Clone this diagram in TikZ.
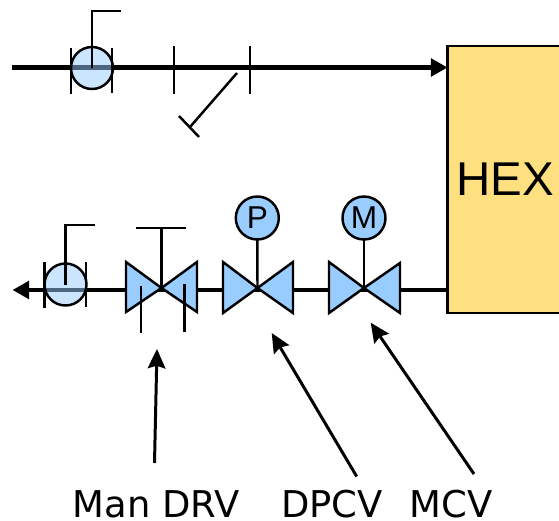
\documentclass[tikz,border=0pt]{standalone}
\usepackage{fontspec}
\setmainfont{DejaVu Sans}
\newfontfamily\arialfont{Liberation Sans}
\usetikzlibrary{arrows.meta}
\tikzset{
    pipe/.style={line width=2.3pt, black, -{Triangle[length=9.5pt, width=10pt]}},
    thin line/.style={line width=1.4pt, black},
    valve/.style={line width=1.4pt, draw=black, fill=valveblue, line join=miter},
    actuator/.style={circle, inner sep=0pt, outer sep=0pt, minimum size=0.86cm, line width=1.4pt, draw=black, fill=valveblue, font=\arialfont\fontsize{18}{18}\selectfont},
    orifice/.style={circle, inner sep=0pt, outer sep=0pt, minimum size=0.84cm, line width=1.4pt, draw=black, fill=valveblue, fill opacity=0.5, text opacity=1},
    callout/.style={line width=1.7pt, black, -{Stealth[length=11pt, width=10pt, inset=1.5pt]}},
    tag/.style={inner sep=0pt, anchor=base, font=\fontsize{21}{21}\selectfont}
}
\definecolor{valveblue}{HTML}{99CCFF}
\definecolor{hexyellow}{HTML}{FFE080}

\begin{document}
\begin{tikzpicture}[x=0.02cm, y=-0.02cm]
    \useasboundingbox (0, 0) rectangle (559, 521);
    \clip (0, 0) rectangle (559, 521);
    \node[draw=black, line width=1.4pt, fill=hexyellow, minimum width=2.3cm, minimum height=5.34cm, inner sep=0pt, outer sep=0pt, font=\arialfont\fontsize{27}{27}\selectfont] (hex) at (505, 179.5) {HEX};

    % supply line
    \coordinate (supplyin) at (12, 67.5);
    \coordinate (supplyout) at (hex.west |- supplyin);
    \draw[pipe] (supplyin) -- (supplyout);
    \node[orifice] (orifa) at (92, 68) {};
    \draw[thin line] (71, 48) -- (71, 94);
    \draw[thin line] (112, 48) -- (112, 93);
    \coordinate (flaga) at (92, 11);
    \draw[thin line] (orifa.center) -- (flaga) -- (121, 11);
    \draw[thin line] (174, 46) -- (174, 94);
    \draw[thin line] (250, 46) -- (250, 94);
    \coordinate (handlea) at (190, 127);
    \draw[thin line] (237, 73) -- (handlea);
    \draw[thin line] (179, 116) -- (199, 137);

    % return line
    \coordinate (returnin) at (hex.west |- 0, 290);
    \coordinate (returnout) at (12.5, 290);
    \draw[pipe] (returnin) -- (returnout);
    \node[orifice] (orifb) at (65.5, 284.5) {};
    \draw[thin line] (44.5, 262) -- (44.5, 308);
    \draw[thin line] (86, 262) -- (86, 307);
    \coordinate (flagb) at (65.5, 225);
    \draw[thin line] (65.5, 285) -- (flagb) -- (95, 225);

    % valves
    \coordinate (drv) at (161.5, 288);
    \coordinate (dpcv) at (257.5, 288);
    \coordinate (mcv) at (364, 288);
    \draw[valve] (drv) -- (126, 262) -- (126, 312) -- cycle;
    \draw[valve] (drv) -- (197, 262) -- (197, 312) -- cycle;
    \draw[valve] (dpcv) -- (223, 262) -- (223, 313) -- cycle;
    \draw[valve] (dpcv) -- (293, 262) -- (293, 313) -- cycle;
    \draw[valve] (mcv) -- (329, 262) -- (329, 313) -- cycle;
    \draw[valve] (mcv) -- (400, 263) -- (400, 313) -- cycle;

    \coordinate (handleb) at (161.5, 228);
    \draw[thin line] (drv) -- (handleb);
    \draw[thin line] (136, 228) -- (186, 228);
    \draw[thin line] (141, 286) -- (141, 333);
    \draw[thin line] (184.5, 284) -- (184.5, 332);

    \node[actuator] (p) at (257.3, 218) {P};
    \node[actuator] (m) at (364, 218) {M};
    \draw[thin line] (p) -- (dpcv);
    \draw[thin line] (m) -- (mcv);

    % labels
    \node[tag] (drvtag) at (156, 517) {Man DRV};
    \node[tag] (dpcvtag) at (332, 517) {DPCV};
    \node[tag] (mcvtag) at (451, 517) {MCV};
    \coordinate (drvtail) at (154.5, 463);
    \coordinate (dpcvtail) at (356.7, 476.5);
    \coordinate (mcvtail) at (474, 474);
    \coordinate (drvtip) at (157, 349);
    \coordinate (dpcvtip) at (271.7, 333);
    \coordinate (mcvtip) at (370.7, 322.7);
    \draw[callout] (drvtail) -- (drvtip);
    \draw[callout] (dpcvtail) -- (dpcvtip);
    \draw[callout] (mcvtail) -- (mcvtip);
\end{tikzpicture}
\end{document}
